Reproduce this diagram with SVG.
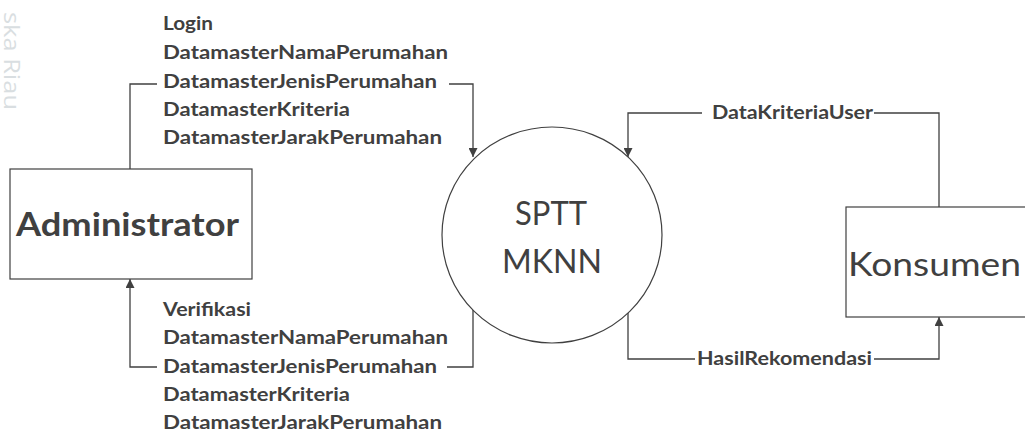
<svg xmlns="http://www.w3.org/2000/svg" width="1025" height="435" viewBox="0 0 1025 435">
  <defs>
    <marker id="arrow" viewBox="0 0 10 10" refX="10" refY="5" markerWidth="10" markerHeight="9" markerUnits="userSpaceOnUse" orient="auto">
      <path d="M0,0 L10,5 L0,10 Z" fill="#404040"/>
    </marker>
    <style>
      .box { fill: #ffffff; stroke: #404040; stroke-width: 1.2; }
      .wire { fill: none; stroke: #404040; stroke-width: 1.3; }
      .lbl { font-family: Lato, "Open Sans", "Liberation Sans", sans-serif; font-weight: bold; font-size: 19px; fill: #404040; }
      .big { font-family: Lato, "Open Sans", "Liberation Sans", sans-serif; font-size: 33px; fill: #404040; }
      .mark { font-family: "Open Sans", "Liberation Sans", sans-serif; font-size: 22px; fill: #d9dee1; }
    </style>
  </defs>

  <rect width="1025" height="435" fill="#ffffff"/>
  <text class="mark" transform="translate(4,12) rotate(90)" textLength="98" lengthAdjust="spacingAndGlyphs">ska Riau</text>

  <g id="connectors">
    <!-- Administrator to process -->
    <path class="wire" d="M130,169 V84 H157"/>
    <path class="wire" d="M449,84 H473 V157" marker-end="url(#arrow)"/>
    <!-- process to Administrator -->
    <path class="wire" d="M473,310 V367 H447"/>
    <path class="wire" d="M157,367 H130 V279" marker-end="url(#arrow)"/>
    <!-- Konsumen to process -->
    <path class="wire" d="M939,207 V113 H874"/>
    <path class="wire" d="M702,113 H628 V157" marker-end="url(#arrow)"/>
    <!-- process to Konsumen -->
    <path class="wire" d="M628,310 V359 H695"/>
    <path class="wire" d="M874,359 H939 V317" marker-end="url(#arrow)"/>
  </g>

  <g id="labels-in">
    <text class="lbl" x="163" y="30" textLength="50" lengthAdjust="spacingAndGlyphs">Login</text>
    <text class="lbl" x="163" y="59" textLength="285" lengthAdjust="spacingAndGlyphs">DatamasterNamaPerumahan</text>
    <text class="lbl" x="163" y="88" textLength="274" lengthAdjust="spacingAndGlyphs">DatamasterJenisPerumahan</text>
    <text class="lbl" x="163" y="116" textLength="187" lengthAdjust="spacingAndGlyphs">DatamasterKriteria</text>
    <text class="lbl" x="163" y="144" textLength="279" lengthAdjust="spacingAndGlyphs">DatamasterJarakPerumahan</text>
  </g>

  <g id="labels-out">
    <text class="lbl" x="163" y="316" textLength="88" lengthAdjust="spacingAndGlyphs">Verifikasi</text>
    <text class="lbl" x="163" y="344" textLength="285" lengthAdjust="spacingAndGlyphs">DatamasterNamaPerumahan</text>
    <text class="lbl" x="163" y="373" textLength="274" lengthAdjust="spacingAndGlyphs">DatamasterJenisPerumahan</text>
    <text class="lbl" x="163" y="401" textLength="187" lengthAdjust="spacingAndGlyphs">DatamasterKriteria</text>
    <text class="lbl" x="163" y="429" textLength="279" lengthAdjust="spacingAndGlyphs">DatamasterJarakPerumahan</text>
  </g>

  <g id="label-kriteria">
    <text class="lbl" x="712" y="119" textLength="161" lengthAdjust="spacingAndGlyphs">DataKriteriaUser</text>
  </g>
  <g id="label-hasil">
    <text class="lbl" x="697" y="365" textLength="175" lengthAdjust="spacingAndGlyphs">HasilRekomendasi</text>
  </g>

  <g id="administrator">
    <rect class="box" x="10" y="169" width="242" height="110"/>
    <text class="big" x="16" y="236" font-weight="bold" textLength="223" lengthAdjust="spacingAndGlyphs">Administrator</text>
  </g>

  <g id="process">
    <ellipse class="box" cx="552" cy="235" rx="110" ry="108"/>
    <text class="big" x="551" y="225" text-anchor="middle" textLength="72" lengthAdjust="spacingAndGlyphs">SPTT</text>
    <text class="big" x="552" y="273" text-anchor="middle" textLength="100" lengthAdjust="spacingAndGlyphs">MKNN</text>
  </g>

  <g id="konsumen">
    <rect class="box" x="846" y="207" width="180" height="110"/>
    <text class="big" x="848" y="276" textLength="173" lengthAdjust="spacingAndGlyphs">Konsumen</text>
  </g>
</svg>
